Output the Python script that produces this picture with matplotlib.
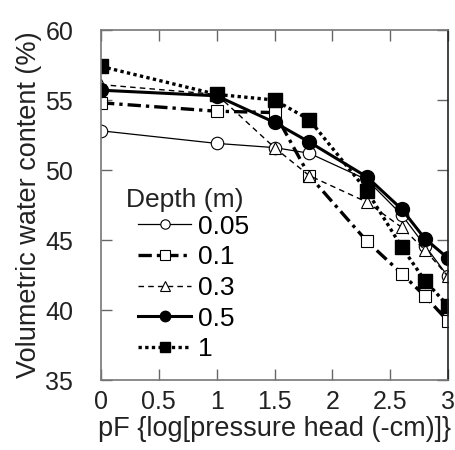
import matplotlib
matplotlib.use("Agg")
import matplotlib.pyplot as plt

plt.rcParams['font.family'] = ['Liberation Sans', 'DejaVu Sans']

pf = [0, 1, 1.5, 1.8, 2.3, 2.6, 2.8, 3.0]
depth_labels = ["0.05", "0.1", "0.3", "0.5", "1"]
d005 = [52.8, 51.9, 51.6, 51.2, 49.3, 46.8, 44.6, 42.4]
d01 = [54.8, 54.2, 54.1, 49.6, 44.9, 42.6, 41.0, 39.2]
d03 = [56.1, 55.4, 51.6, 49.6, 47.7, 45.9, 44.3, 42.4]
d05 = [55.7, 55.3, 53.4, 52.0, 49.5, 47.2, 45.1, 43.7]
d1 = [57.4, 55.4, 55.0, 53.6, 48.5, 44.5, 42.1, 40.3]

xticks = [0, 0.5, 1, 1.5, 2, 2.5, 3]
xticklabels = ["0", "0.5", "1", "1.5", "2", "2.5", "3"]
yticks = [35, 40, 45, 50, 55, 60]

fig = plt.figure(figsize=(4.55, 4.5), dpi=100)
ax = fig.add_axes([101/455, 1-380/450, (448-101)/455, 350/450])

ax.plot(pf, d005, color='black', lw=0.9, ls='-', marker='o', ms=9,
        mfc='white', mec='black', mew=0.8, label=depth_labels[0])
ax.plot(pf, d01, color='black', lw=2.4, ls=(0, (4, 1.5, 1, 1.5)), marker='s', ms=9,
        mfc='white', mec='black', mew=0.8, label=depth_labels[1])
ax.plot(pf, d03, color='black', lw=1.0, ls=(0, (4, 3)), marker='^', ms=9,
        mfc='white', mec='black', mew=0.8, label=depth_labels[2])
ax.plot(pf, d05, color='black', lw=2.2, ls='-', marker='o', ms=10,
        mfc='black', mec='black', label=depth_labels[3])
ax.plot(pf, d1, color='black', lw=2.4, ls=(0, (1, 1)), marker='s', ms=10,
        mfc='black', mec='black', label=depth_labels[4])

ax.set_xlim(0, 3)
ax.set_ylim(35, 60)
ax.set_xticks(xticks)
ax.set_xticklabels(xticklabels)
ax.set_yticks(yticks)
ax.tick_params(direction='in', length=8, width=1, colors='#666666', labelcolor='#222222',
               labelsize=18, top=True, right=True)
ax.tick_params(axis='y', pad=20)
ax.tick_params(axis='x', pad=7)
for s in ax.spines.values():
    s.set_color('#777777')
    s.set_linewidth(1.2)
ax.spines['right'].set_color('#222222')

ax.set_xlabel("pF {log[pressure head (-cm)]}", fontsize=19.5, color='#222222', labelpad=2)
ax.set_ylabel("Volumetric water content (%)", fontsize=19.5, color='#222222', labelpad=2)

leg = ax.legend(loc='lower left', bbox_to_anchor=(0.107, 0.054), frameon=False,
                fontsize=19, handlelength=2.0, handletextpad=0.27, labelspacing=0.25,
                markerscale=0.75, borderpad=0, borderaxespad=0)
ax.text((126-101)/347, (380-200)/350, "Depth (m)", transform=ax.transAxes,
        fontsize=19, color='#222222', ha='left', va='center')

fig.savefig("out.png", dpi=100)
